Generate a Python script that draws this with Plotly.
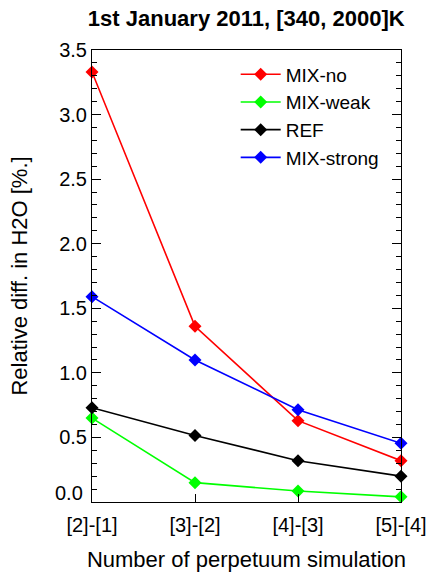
import plotly.graph_objects as go

categories = ["[2]-[1]", "[3]-[2]", "[4]-[3]", "[5]-[4]"]
mix_no = [3.33, 1.36, 0.63, 0.32]
mix_weak = [0.65, 0.15, 0.085, 0.04]
ref = [0.73, 0.515, 0.32, 0.20]
mix_strong = [1.59, 1.10, 0.715, 0.455]
y_tick_vals = [0.0, 0.5, 1.0, 1.5, 2.0, 2.5, 3.0, 3.5]
y_tick_labels = ["0.0", "0.5", "1.0", "1.5", "2.0", "2.5", "3.0", "3.5"]

series = [
    ("MIX-no", mix_no, "#ff0000"),
    ("MIX-weak", mix_weak, "#00ff00"),
    ("REF", ref, "#000000"),
    ("MIX-strong", mix_strong, "#0000ff"),
]

fig = go.Figure()
for name, vals, col in series:
    fig.add_trace(go.Scatter(
        x=categories, y=vals, name=name, mode="lines+markers",
        line=dict(color=col, width=1.6),
        marker=dict(symbol="diamond", size=10, color=col),
        cliponaxis=False,
    ))

font_family = "Liberation Sans, Arial, Helvetica, sans-serif"
fig.update_layout(
    width=426, height=572,
    margin=dict(l=92, r=25, t=50, b=70, autoexpand=False),
    paper_bgcolor="white", plot_bgcolor="white",
    font=dict(family=font_family, size=20, color="black"),
    title=dict(text="<b>1st January 2011, [340, 2000]K</b>", x=0.578, xanchor="center",
               y=0.968, yanchor="middle", font=dict(size=22)),
    showlegend=True,
    legend=dict(x=0.465, y=0.988, xanchor="left", yanchor="top",
                bgcolor="rgba(0,0,0,0)", font=dict(size=19),
                itemwidth=40, tracegroupgap=0),
)
fig.update_xaxes(
    type="category", range=[0, 3], showgrid=False, zeroline=False, automargin=False,
    showline=True, linecolor="black", linewidth=1, mirror=True,
    ticks="inside", ticklen=8, tickcolor="black",
    title=dict(text="Number of perpetuum simulation", standoff=26, font=dict(size=22)),
    ticklabelstandoff=5,
)
# the lowest label is lifted slightly above its tick (as in the reference) so it
# does not collide with the first category label
fig.update_yaxes(
    range=[0, 3.5], tickmode="array", tickvals=y_tick_vals,
    ticktext=[""] + y_tick_labels[1:],
    showgrid=False, zeroline=False, automargin=False,
    showline=True, linecolor="black", linewidth=1, mirror="ticks",
    ticks="inside", ticklen=9, tickcolor="black",
    minor=dict(tickmode="linear", tick0=0, dtick=0.1, ticks="inside", ticklen=5,
               tickcolor="black"),
    title=dict(text="Relative diff. in H2O [%.]", standoff=25, font=dict(size=22)),
    ticklabelstandoff=0,
)
fig.add_annotation(
    text=y_tick_labels[0], xref="paper", x=0, yref="y", y=y_tick_vals[0],
    xanchor="right", yanchor="middle", xshift=-7, yshift=9,
    showarrow=False, font=dict(size=20, family=font_family, color="black"),
)

fig.write_html(
    "out.html",
    config={"displayModeBar": False},
    post_script="document.body.style.margin='0';document.body.style.overflow='hidden';",
)
